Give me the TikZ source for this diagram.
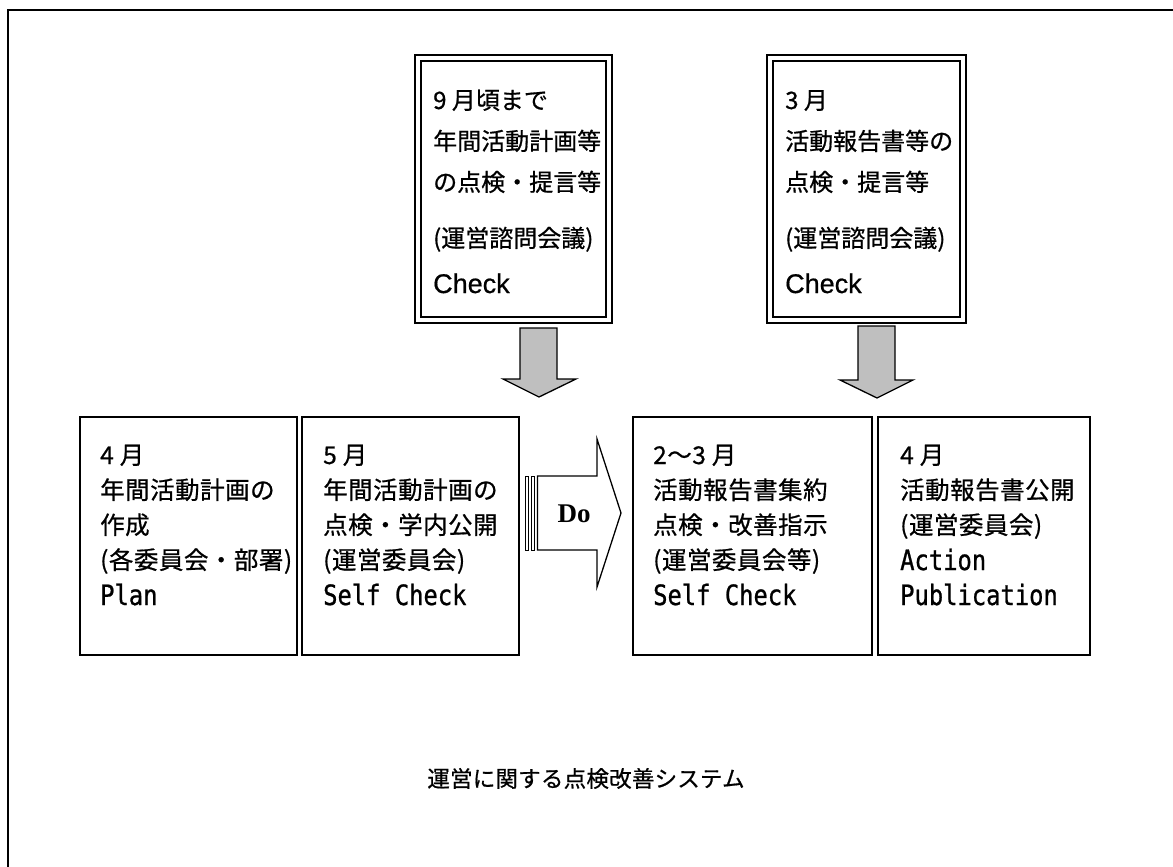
\documentclass[tikz,border=0pt]{standalone}
\usepackage{fontspec}
\newfontfamily\jpb{Noto Sans CJK JP}[LetterSpace=2,FakeBold=0.7]
\newfontfamily\jpt{Noto Sans CJK JP}[LetterSpace=0,FakeBold=0.7]
\newfontfamily\jpc{Noto Sans CJK JP}[LetterSpace=1,FakeBold=0.7]
\newfontfamily\monob{DejaVu Sans Mono}[FakeStretch=0.85,FakeBold=0.8]
\newfontfamily\arialf{Liberation Sans}[FakeBold=0.6]
\newfontfamily\timesf{Liberation Serif}
\begin{document}
\begin{tikzpicture}[x=1pt,y=-1pt,
  onebox/.style={draw, line width=1.4pt, inner sep=0pt},
  dblbox/.style={draw, double, double distance=4.2pt, line width=1.5pt, inner sep=0pt},
  ln/.style={anchor=base west, inner sep=0pt},
  jb/.style={font=\fontsize{24.5}{28}\selectfont\jpb},
  jt/.style={font=\fontsize{24}{28}\selectfont\jpt},
  mb/.style={font=\fontsize{28}{32}\selectfont\monob},
  ck/.style={font=\fontsize{27}{30}\selectfont\arialf},
  blockarrow/.style={draw, line width=1.3pt, fill=gray!50, line join=miter},
  stripe/.style={draw, line width=0.9pt, fill=white},
  doarrow/.style={draw, line width=1.3pt, fill=white, line join=miter}]
\useasboundingbox (0,0) rectangle (1173,867);
% outer frame
\draw[line width=1.8pt] (8,867) -- (8,10) -- (1173,10);
% top double boxes
\node[dblbox, minimum width=191pt, minimum height=262pt] (A) at (513.5,189) {};
\node[dblbox, minimum width=193pt, minimum height=262pt] (B) at (866.5,189) {};
% bottom boxes
\node[onebox, minimum width=217pt, minimum height=238pt] (b1) at (188.5,536) {};
\node[onebox, minimum width=217pt, minimum height=238pt] (b2) at (410.5,536) {};
\node[onebox, minimum width=239pt, minimum height=238pt] (b3) at (752.5,536) {};
\node[onebox, minimum width=212pt, minimum height=238pt] (b4) at (984,536) {};
% box A text
\node[ln, jt] (a1) at (433,109) {9 月頃まで};
\node[ln, jt] (a2) at (433,150) {年間活動計画等};
\node[ln, jt] (a3) at (433,191) {の点検・提言等};
\node[ln, jt] (a4) at (433,247) {(運営諮問会議)};
\node[ln, ck] (a5) at (433,293) {Check};
% box B text
\node[ln, jt] (c1) at (785,109) {3 月};
\node[ln, jt] (c2) at (785,150) {活動報告書等の};
\node[ln, jt] (c3) at (785,191) {点検・提言等};
\node[ln, jt] (c4) at (785,247) {(運営諮問会議)};
\node[ln, ck] (c5) at (785,293) {Check};
% box 1 text
\node[ln, jb] (p1) at (100,464) {4 月};
\node[ln, jb] (p2) at (100,499) {年間活動計画の};
\node[ln, jb] (p3) at (100,534) {作成};
\node[ln, jb] (p4) at (100,569) {(各委員会・部署)};
\node[ln, mb] (p5) at (100,605) {Plan};
% box 2 text
\node[ln, jb] (q1) at (323,464) {5 月};
\node[ln, jb] (q2) at (323,499) {年間活動計画の};
\node[ln, jb] (q3) at (323,534) {点検・学内公開};
\node[ln, jb] (q4) at (323,569) {(運営委員会)};
\node[ln, mb] (q5) at (323,605) {Self Check};
% box 3 text
\node[ln, jb] (r1) at (653,464) {2～3 月};
\node[ln, jb] (r2) at (653,499) {活動報告書集約};
\node[ln, jb] (r3) at (653,534) {点検・改善指示};
\node[ln, jb] (r4) at (653,569) {(運営委員会等)};
\node[ln, mb] (r5) at (653,605) {Self Check};
% box 4 text
\node[ln, jb] (s1) at (900,464) {4 月};
\node[ln, jb] (s2) at (900,499) {活動報告書公開};
\node[ln, jb] (s3) at (900,534) {(運営委員会)};
\node[ln, mb] (s4) at (900,570) {Action};
\node[ln, mb] (s5) at (900,605) {Publication};
% down arrows
\draw[blockarrow] (520,328) -- (557,328) -- (557,379) -- (576,379) -- (539,397) -- (503,379) -- (520,379) -- cycle;
\draw[blockarrow] (858,326) -- (895,326) -- (895,380) -- (913,380) -- (877,398) -- (840,380) -- (858,380) -- cycle;
% Do arrow
\draw[stripe] (525,476) rectangle (528.5,550);
\draw[stripe] (531,476) rectangle (534.5,550);
\draw[doarrow] (537.5,476) -- (597,476) -- (597,439) -- (621,513) -- (597,587) -- (597,550) -- (537.5,550) -- cycle;
\node[font=\fontsize{27}{30}\selectfont\timesf\bfseries, inner sep=0pt] (do) at (574,514) {Do};
% caption
\node[anchor=base, inner sep=0pt, font=\fontsize{22.5}{26}\selectfont\jpc] (cap) at (586,787) {運営に関する点検改善システム};
\end{tikzpicture}
\end{document}
